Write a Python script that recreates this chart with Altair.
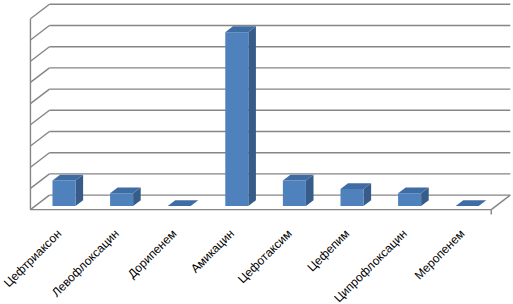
import altair as alt
import pandas as pd

# ---- data ----
drugs = ["Цефтриаксон", "Левофлоксацин", "Дорипенем", "Амикацин",
         "Цефотаксим", "Цефепим", "Ципрофлоксацин", "Меропенем"]
values = [12, 6, 0, 82, 12, 8, 6, 0]
grid_values = [0, 10, 20, 30, 40, 50, 60, 70, 80, 90]

# ---- geometry / style (pixels) ----
W, H = 513, 304
SLOT_PX = 57.6        # width of one category slot
X0_PX = 59.25         # pixel x of slot 0 on the floor's front plane
UNIT_PX = 2.12        # pixels per value unit
Y0_PX = 209.6         # pixel y of value 0 on the floor's front plane
DEPTH_X_PX, DEPTH_Y_PX = 19.0, 14.5   # 3-D depth vector (front -> back wall)
D_FRONT, D_BACK = 0.25, 0.65          # bar depth position (fraction of floor depth)
HALF = 0.2                            # half bar width in slots
LABEL_DX_PX, LABEL_DY_PX = 0.0, 22.0

ds = DEPTH_X_PX / SLOT_PX
dv = DEPTH_Y_PX / UNIT_PX
x_dom = [-X0_PX / SLOT_PX, (W - X0_PX) / SLOT_PX]
y_dom = [(Y0_PX - H) / UNIT_PX, Y0_PX / UNIT_PX]
left, right = -0.5, len(drugs) - 0.5

xs = alt.Scale(domain=x_dom, nice=False, zero=False)
ys = alt.Scale(domain=y_dom, nice=False, zero=False)
X = lambda f: alt.X(f, type="quantitative", scale=xs, axis=None)
Y = lambda f: alt.Y(f, type="quantitative", scale=ys, axis=None)

GRID = "#858585"
GW = 1.4

# back-wall gridlines
back = pd.DataFrame({"g": grid_values})
back["x"] = left + ds
back["x2"] = right + ds
back["y"] = back["g"] + dv
back_layer = alt.Chart(back).mark_rule(color=GRID, strokeWidth=GW).encode(
    x=X("x"), x2="x2", y=Y("y"))

# left-wall diagonals
side = pd.DataFrame({"g": grid_values})
side["x"] = left
side["x2"] = left + ds
side["y"] = side["g"]
side["y2"] = side["g"] + dv
side_layer = alt.Chart(side).mark_rule(color=GRID, strokeWidth=GW).encode(
    x=X("x"), x2="x2", y=Y("y"), y2="y2")

# edges: left wall front edge, floor front edge, floor right edge, tick
edges = pd.DataFrame({
    "x": [left, left, right, right],
    "x2": [left, right, right + ds, right],
    "y": [0, 0, 0, 0],
    "y2": [max(grid_values), 0, dv, -5 / UNIT_PX],
})
edge_layer = alt.Chart(edges).mark_rule(color=GRID, strokeWidth=GW).encode(
    x=X("x"), x2="x2", y=Y("y"), y2="y2")

# bars
bars = pd.DataFrame({"drug": drugs, "v": values, "i": range(len(drugs))})
pos = bars[bars["v"] > 0].copy()
pos["x"] = pos["i"] - HALF + D_FRONT * ds
pos["x2"] = pos["i"] + HALF + D_FRONT * ds
pos["y"] = D_FRONT * dv
pos["y2"] = pos["v"] + D_FRONT * dv
front_layer = alt.Chart(pos).mark_rect(color="#4F81BD").encode(
    x=X("x"), x2="x2", y=Y("y"), y2="y2")

side_rows, top_rows = [], []
for _, r in bars.iterrows():
    for d in (D_FRONT, D_BACK):
        if r["v"] > 0:
            side_rows.append({"drug": r["drug"], "x": r["i"] + HALF + d * ds,
                              "ylo": d * dv, "yhi": r["v"] + d * dv})
        top_rows.append({"drug": r["drug"], "y": r["v"] + d * dv,
                         "xlo": r["i"] - HALF + d * ds, "xhi": r["i"] + HALF + d * ds})
sides = pd.DataFrame(side_rows)
tops = pd.DataFrame(top_rows)

side_face = alt.Chart(sides).mark_area(color="#375C89", orient="vertical").encode(
    x=X("x"), y=Y("ylo"), y2="yhi", detail="drug:N")
top_face = alt.Chart(tops).mark_area(color="#3F6CA3", orient="horizontal").encode(
    y=Y("y"), x=X("xlo"), x2="xhi", detail="drug:N")

# category labels
labs = bars.copy()
labs["x"] = labs["i"] + LABEL_DX_PX / SLOT_PX
labs["y"] = -LABEL_DY_PX / UNIT_PX
label_layer = alt.Chart(labs).mark_text(
    angle=315, align="right", baseline="middle", font="Liberation Sans",
    fontSize=12, color="#000000").encode(x=X("x"), y=Y("y"), text="drug:N")

chart = alt.layer(back_layer, side_layer, edge_layer, side_face, front_layer,
                  top_face, label_layer).properties(
    width=W, height=H, autosize=alt.AutoSizeParams(type="none"),
    padding=0, background="white"
).configure_view(stroke=None)

chart.save("out.html", embed_options={"renderer": "svg", "actions": False})
